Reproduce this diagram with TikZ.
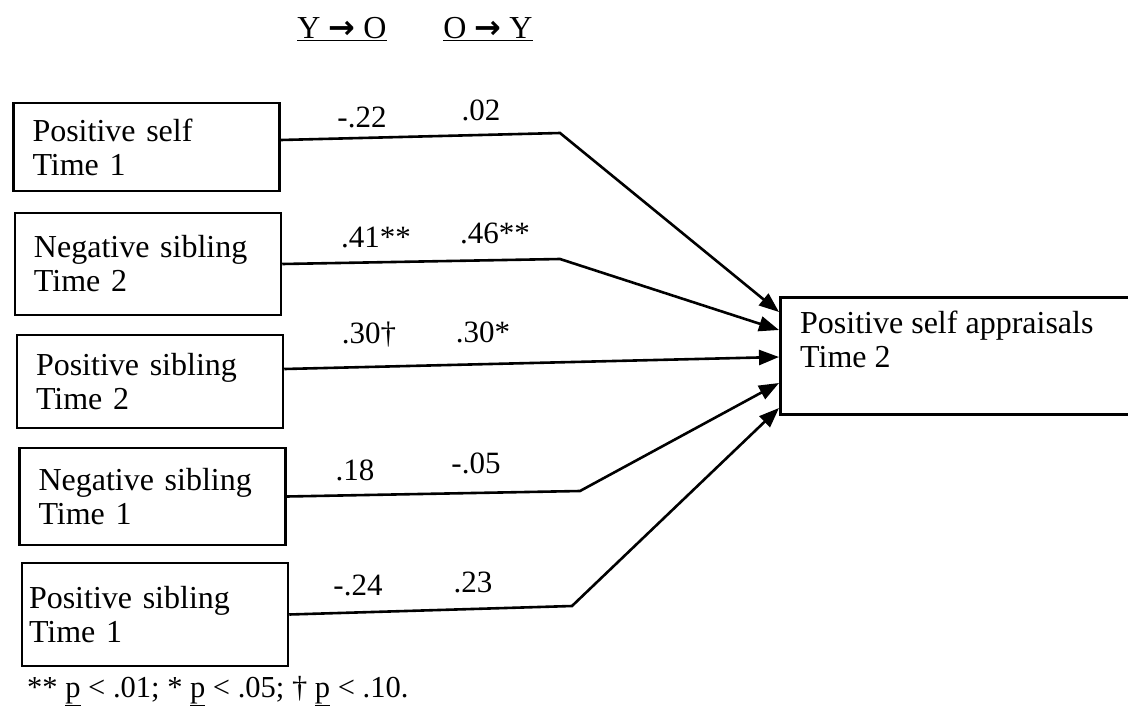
\documentclass[tikz,border=0pt]{standalone}
\usepackage{fontspec}
\setmainfont{Liberation Serif}
\newfontfamily\arrowfont{DejaVu Sans}
\usetikzlibrary{arrows.meta,calc}
\newcommand{\dirarrow}{{\arrowfont\bfseries →}}
\begin{document}
\begin{tikzpicture}[x=1pt,y=-1pt,
  box/.style={draw,line width=2.5pt,rectangle,inner sep=0pt,align=left,
    minimum width=266pt,text width=#1,font=\fontsize{32}{34}\selectfont},
  box/.default=228pt,
  conn/.style={line width=2.6pt,-{Triangle[length=20pt,width=15pt]}},
  coef/.style={anchor=base,inner sep=0pt,font=\fontsize{31}{33}\selectfont},
  head/.style={anchor=base,inner sep=0pt,font=\fontsize{32}{34}\selectfont},
]
\useasboundingbox (0,0) rectangle (1128,707);

% column headings
\node[head] (hyo) at (342,38) {\underline{Y \dirarrow{} O}};
\node[head] (hoy) at (488,38) {\underline{O \dirarrow{} Y}};

% predictor boxes
\node[box,minimum height=88pt]  (b1) at (146.5,147)   {Positive self\\Time 1};
\node[box,minimum height=102pt] (b2) at (148,264)     {Negative sibling\\Time 2};
\node[box,minimum height=93pt]  (b3) at (150,381.5)   {Positive sibling\\Time 2};
\node[box,minimum height=97pt]  (b4) at (152.5,496.5) {Negative sibling\\Time 1};
\node[box=252pt,minimum height=103pt] (b5) at (155,614.5) {Positive sibling\\Time 1};

% outcome box
\node[draw,line width=2.5pt,rectangle,inner sep=0pt,anchor=north west,
      minimum width=400pt,minimum height=117pt] (t) at (779,296) {};
\node[anchor=north west,inner sep=0pt,align=left,font=\fontsize{32}{34}\selectfont]
      (tt) at (800,311) {Positive self appraisals\\Time 2};

% bends and arrow targets
\coordinate (k1) at (560,133);
\coordinate (k2) at (560,259);
\coordinate (k4) at (580,491);
\coordinate (k5) at (572,606);
\coordinate (a1) at ($(t.north west)+(0,16)$);
\coordinate (a2) at ($(t.north west)+(0,34)$);
\coordinate (a3) at ($(t.north west)+(0,61)$);
\coordinate (a4) at ($(t.north west)+(0,87)$);
\coordinate (a5) at ($(t.north west)+(0,112)$);

% paths
\draw[conn] ([yshift=7pt]b1.east) -- (k1) -- (a1);
\draw[conn] (b2.east) -- (k2) -- (a2);
\draw[conn] ([yshift=12.5pt]b3.east) -- (a3);
\draw[conn] (b4.east) -- (k4) -- (a4);
\draw[conn] (b5.east) -- (k5) -- (a5);

% path coefficients
\node[coef] (c1a) at (362,127) {-.22};
\node[coef] (c1b) at (481,120) {.02};
\node[coef] (c2a) at (376,247) {.41**};
\node[coef] (c2b) at (495,243) {.46**};
\node[coef] (c3a) at (369,343) {.30†};
\node[coef] (c3b) at (483,342) {.30*};
\node[coef] (c4a) at (355,480) {.18};
\node[coef] (c4b) at (476,473) {-.05};
\node[coef] (c5a) at (358,595) {-.24};
\node[coef] (c5b) at (473,592) {.23};

% significance note
\node[anchor=base west,inner sep=0pt,font=\fontsize{30.5}{32}\selectfont] (note) at (27,697)
  {** \underline{p} < .01; * \underline{p} < .05; † \underline{p} < .10.};
\end{tikzpicture}
\end{document}
